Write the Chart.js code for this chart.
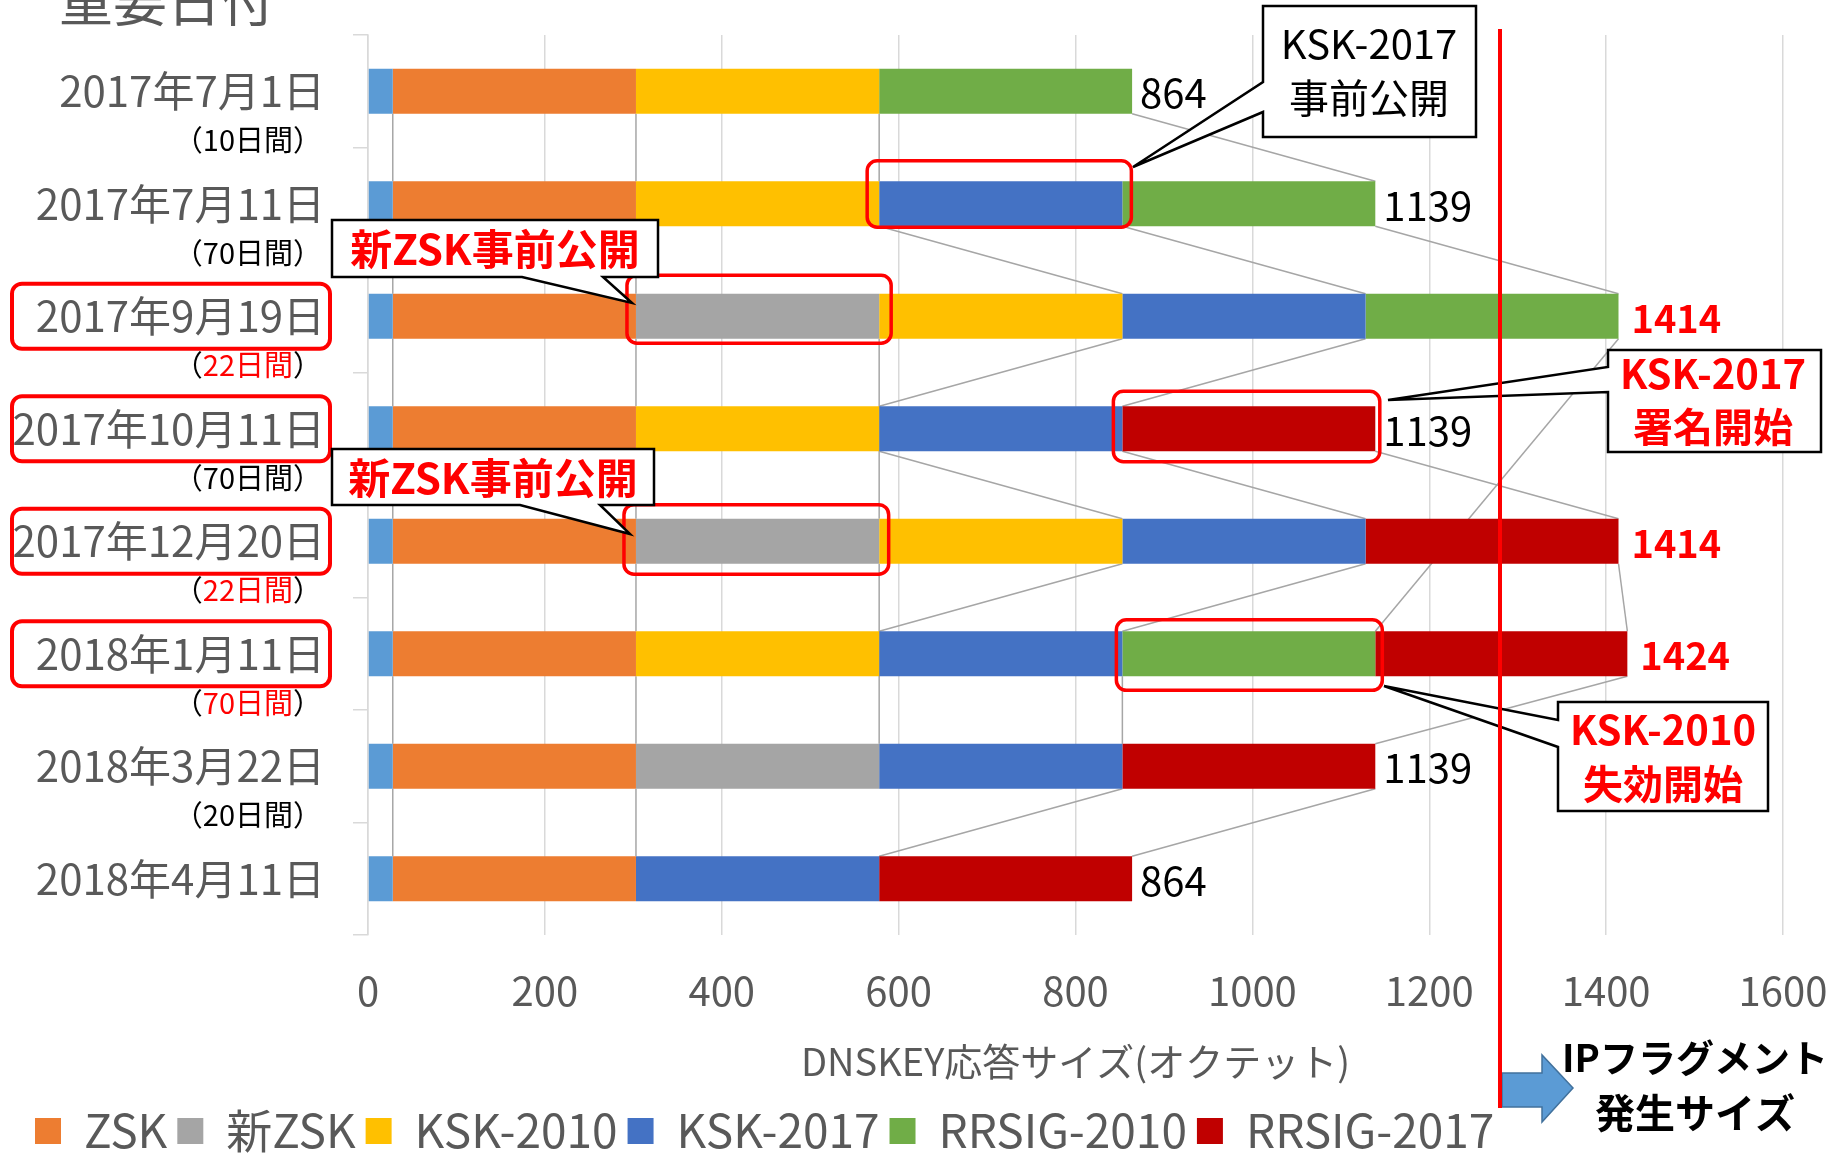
<!DOCTYPE html>
<html lang="ja">
<head>
<meta charset="utf-8">
<title>DNSKEY応答サイズ</title>
<script src="https://cdn.jsdelivr.net/npm/chart.js@4.4.1/dist/chart.umd.min.js"></script>
<style>
    html, body { margin: 0; padding: 0; background: #fff; }
    #wrap { width: 1839px; height: 1154px; }
</style>
</head>
<body>
<div id="wrap"><canvas id="chart" width="1839" height="1154"></canvas></div>
<script>
// =======================
// Dados
// =======================
const dates = ['2017年7月1日', '2017年7月11日', '2017年9月19日', '2017年10月11日',
               '2017年12月20日', '2018年1月11日', '2018年3月22日', '2018年4月11日'];
const periods = ['10日間', '70日間', '22日間', '70日間', '22日間', '70日間', '20日間', ''];

const headerSize    = [28, 28, 28, 28, 28, 28, 28, 28];
const zskSize       = [275, 275, 275, 275, 275, 275, 275, 275];
const newZskSize    = [null, null, 275, null, 275, null, 275, null];
const ksk2010Size   = [275, 275, 275, 275, 275, 275, null, null];
const ksk2017Size   = [null, 275, 275, 275, 275, 275, 275, 275];
const rrsig2010Size = [286, 286, 286, null, null, 286, null, null];
const rrsig2017Size = [null, null, null, 286, 286, 285, 286, 286];

const totals = [864, 1139, 1414, 1139, 1414, 1424, 1139, 864];
const xTickValues = [0, 200, 400, 600, 800, 1000, 1200, 1400, 1600];
const fragmentSize = 1280;

// =======================
// Estilo
// =======================
const FONT = "'Noto Sans CJK JP', 'Noto Sans', sans-serif";
Chart.defaults.font.family = FONT;
const GRAY_TEXT = '#595959';
const RED = '#FF0000';

const redRows = [2, 4, 5];          // linhas com total em vermelho / período em vermelho
const boxedDates = [2, 3, 4, 5];    // datas com moldura vermelha

function f(size, weight) {
    return (weight || 'normal') + ' ' + size + 'px ' + FONT;
}

// soma acumulada até a série k (ordem de empilhamento)
function endOf(datasets, k, row) {
    let s = 0;
    for (let j = 0; j <= k; j++) {
        const v = datasets[j].data[row];
        if (v != null) s += v;
    }
    return s;
}

// zera o padding automático das escalas (área do gráfico fixa)
function noScalePadding(s) {
    s.paddingTop = s.paddingBottom = s.paddingLeft = s.paddingRight = 0;
}

// =======================
// Plugin: linhas de série, molduras, balões
// =======================
const extras = {
    id: 'extras',
    afterLayout(chart) {
        // legenda começa um pouco mais à direita, sem cortar os rótulos do eixo
        if (chart.legend) chart.legend.left = 25;
    },
    beforeDatasetsDraw(chart) {
        const ctx = chart.ctx;
        const ds = chart.data.datasets;
        const x = chart.scales.x;
        const bars = chart.getDatasetMeta(0).data;
        ctx.save();
        ctx.strokeStyle = '#A6A6A6';
        ctx.lineWidth = 1.5;
        ds.forEach((d, k) => {
            let prev = -1;
            d.data.forEach((v, row) => {
                if (v == null) return;
                if (prev >= 0) {
                    const a = bars[prev], b = bars[row];
                    ctx.beginPath();
                    ctx.moveTo(x.getPixelForValue(endOf(ds, k, prev)), a.y + a.height / 2);
                    ctx.lineTo(x.getPixelForValue(endOf(ds, k, row)), b.y - b.height / 2);
                    ctx.stroke();
                }
                prev = row;
            });
        });
        ctx.restore();
    },
    afterDraw(chart) {
        const ctx = chart.ctx;
        const ds = chart.data.datasets;
        const x = chart.scales.x;
        const y = chart.scales.y;
        ctx.save();

        // título cortado no topo
        ctx.fillStyle = GRAY_TEXT;
        ctx.font = f(54);
        ctx.textAlign = 'left';
        ctx.textBaseline = 'alphabetic';
        ctx.fillText('重要日付', 59, 22);

        // totais
        ctx.textBaseline = 'middle';
        totals.forEach((t, i) => {
            const red = redRows.includes(i);
            ctx.font = red ? f(38, 'bold') : f(40);
            ctx.fillStyle = red ? RED : '#000';
            ctx.fillText(String(t), x.getPixelForValue(t) + (red ? 13 : 8), y.getPixelForValue(i) + 2);
        });

        // períodos (N日間)
        ctx.textAlign = 'left';
        ctx.font = f(29);
        periods.forEach((p, i) => {
            if (!p) return;
            const red = redRows.includes(i);
            const cy = y.getPixelForValue(i) + 49;
            const wL = ctx.measureText('（').width, wM = ctx.measureText(p).width, wR = ctx.measureText('）').width;
            let cx = 322 - (wL + wM + wR);
            ctx.fillStyle = '#000';
            ctx.fillText('（', cx, cy);
            ctx.fillStyle = red ? RED : '#000';
            ctx.fillText(p, cx + wL, cy);
            ctx.fillStyle = '#000';
            ctx.fillText('）', cx + wL + wM, cy);
        });

        // molduras nas datas
        ctx.strokeStyle = RED;
        ctx.lineWidth = 4;
        boxedDates.forEach(i => {
            const cy = y.getPixelForValue(i);
            ctx.beginPath();
            ctx.roundRect(12, cy - 32.5, 318, 65, 10);
            ctx.stroke();
        });

        // molduras nos segmentos
        const segBoxes = [
            { row: 1, k: 4, l: 12, r: 9, t: 43, b: 23.5 },
            { row: 2, k: 2, l: 9, r: 12, t: 41, b: 27 },
            { row: 3, k: 6, l: 9, r: 4.5, t: 37.5, b: 33 },
            { row: 4, k: 2, l: 12, r: 9.5, t: 36.6, b: 33 },
            { row: 5, k: 5, l: 6, r: 7, t: 34, b: 36.6 }
        ];
        ctx.lineWidth = 3.5;
        segBoxes.forEach(s => {
            const x0 = x.getPixelForValue(endOf(ds, s.k - 1, s.row)) - s.l;
            const x1 = x.getPixelForValue(endOf(ds, s.k, s.row)) + s.r;
            const cy = y.getPixelForValue(s.row);
            ctx.beginPath();
            ctx.roundRect(x0, cy - s.t, x1 - x0, s.t + s.b, 10);
            ctx.stroke();
        });

        // balões
        const callouts = [
            { pts: [[1263, 6], [1476, 6], [1476, 137], [1263, 137], [1263, 112], [1133, 167], [1263, 82]],
              lines: [['KSK-2017', 1369, 44], ['事前公開', 1369, 98]], color: '#000', font: f(40) },
            { pts: [[332, 220], [658, 220], [658, 277], [603, 277], [632, 303], [522, 277], [332, 277]],
              lines: [['新ZSK事前公開', 495, 249]], color: RED, font: f(42, 'bold') },
            { pts: [[332, 449], [654, 449], [654, 505], [600, 505], [630, 534], [520, 505], [332, 505]],
              lines: [['新ZSK事前公開', 493, 478]], color: RED, font: f(42, 'bold') },
            { pts: [[1608, 350], [1821, 350], [1821, 452], [1608, 452], [1608, 392], [1388, 400], [1608, 367]],
              lines: [['KSK-2017', 1713, 374], ['署名開始', 1713, 427]], color: RED, font: f(40, 'bold') },
            { pts: [[1558, 702], [1768, 702], [1768, 811], [1558, 811], [1558, 747], [1384, 686], [1558, 720]],
              lines: [['KSK-2010', 1663, 730], ['失効開始', 1663, 784]], color: RED, font: f(40, 'bold') }
        ];
        callouts.forEach(c => {
            ctx.beginPath();
            c.pts.forEach((p, j) => j ? ctx.lineTo(p[0], p[1]) : ctx.moveTo(p[0], p[1]));
            ctx.closePath();
            ctx.fillStyle = '#fff';
            ctx.fill();
            ctx.strokeStyle = '#000';
            ctx.lineWidth = 2.5;
            ctx.stroke();
            ctx.fillStyle = c.color;
            ctx.font = c.font;
            ctx.textAlign = 'center';
            ctx.textBaseline = 'middle';
            c.lines.forEach(l => ctx.fillText(l[0], l[1], l[2]));
        });

        // seta azul
        ctx.beginPath();
        [[1502, 1073], [1542, 1073], [1542, 1055], [1573, 1088], [1542, 1122], [1542, 1107], [1502, 1107]]
            .forEach((p, j) => j ? ctx.lineTo(p[0], p[1]) : ctx.moveTo(p[0], p[1]));
        ctx.closePath();
        ctx.fillStyle = '#5B9BD5';
        ctx.fill();
        ctx.strokeStyle = '#41719C';
        ctx.lineWidth = 1.5;
        ctx.stroke();

        // linha vermelha do limite de fragmentação
        const fx = x.getPixelForValue(fragmentSize);
        ctx.strokeStyle = RED;
        ctx.lineWidth = 4;
        ctx.beginPath();
        ctx.moveTo(fx, 29);
        ctx.lineTo(fx, 1108);
        ctx.stroke();

        ctx.fillStyle = '#000';
        ctx.textAlign = 'center';
        ctx.textBaseline = 'middle';
        ctx.font = f(38, 'bold');
        ctx.fillText('IPフラグメント', 1695, 1058);
        ctx.font = f(40, 'bold');
        ctx.fillText('発生サイズ', 1695, 1113);

        ctx.restore();
    }
};

// =======================
// Gráfico
// =======================
const common = { barPercentage: 0.4, categoryPercentage: 1.0, borderWidth: 0 };

new Chart(document.getElementById('chart'), {
    type: 'bar',
    data: {
        labels: dates,
        datasets: [
            { label: 'ヘッダ', data: headerSize, backgroundColor: '#5B9BD5', ...common },
            { label: 'ZSK', data: zskSize, backgroundColor: '#ED7D31', ...common },
            { label: '新ZSK', data: newZskSize, backgroundColor: '#A5A5A5', ...common },
            { label: 'KSK-2010', data: ksk2010Size, backgroundColor: '#FFC000', ...common },
            { label: 'KSK-2017', data: ksk2017Size, backgroundColor: '#4472C4', ...common },
            { label: 'RRSIG-2010', data: rrsig2010Size, backgroundColor: '#70AD47', ...common },
            { label: 'RRSIG-2017', data: rrsig2017Size, backgroundColor: '#C00000', ...common }
        ]
    },
    options: {
        indexAxis: 'y',
        responsive: false,
        animation: false,
        devicePixelRatio: 1,
        layout: { autoPadding: false, padding: { left: 0, top: 35, right: 56, bottom: -10 } },
        plugins: {
            tooltip: { enabled: false },
            legend: {
                position: 'bottom',
                align: 'start',
                labels: {
                    boxWidth: 26,
                    boxHeight: 26,
                    padding: 10,
                    color: GRAY_TEXT,
                    font: { size: 46, lineHeight: 0.5 },
                    filter: item => item.datasetIndex > 0
                }
            }
        },
        scales: {
            x: {
                stacked: true,
                min: 0,
                max: 1600,
                afterBuildTicks: s => { s.ticks = xTickValues.map(v => ({ value: v })); },
                afterFit: s => { s.height = 163; noScalePadding(s); },
                ticks: { color: GRAY_TEXT, font: { size: 40 }, padding: 32, callback: v => String(v) },
                grid: { color: '#D9D9D9', lineWidth: 1.5, drawTicks: false },
                border: { display: false },
                title: {
                    display: true,
                    text: 'DNSKEY応答サイズ(オクテット)',
                    color: GRAY_TEXT,
                    font: { size: 38 },
                    padding: { top: 0, bottom: 14 }
                }
            },
            y: {
                stacked: true,
                afterFit: s => { s.width = 368; noScalePadding(s); },
                ticks: { color: GRAY_TEXT, font: { size: 42 }, padding: 28 },
                grid: { drawOnChartArea: false, color: '#D9D9D9', lineWidth: 1.5, tickLength: 15, offset: true },
                border: { display: true, color: '#D9D9D9', width: 1.5 }
            }
        }
    },
    plugins: [extras]
});
</script>
</body>
</html>
